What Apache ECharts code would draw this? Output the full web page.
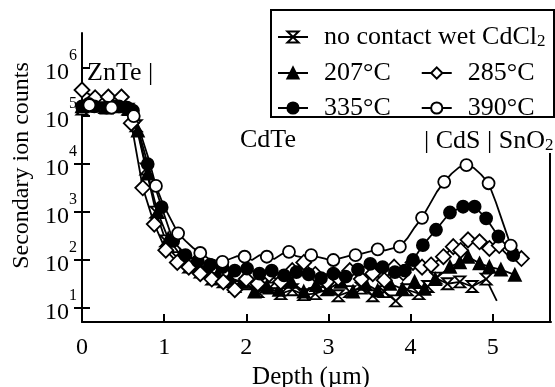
<!DOCTYPE html>
<html>
<head>
<meta charset="utf-8">
<script src="https://cdn.jsdelivr.net/npm/echarts@6/dist/echarts.min.js"></script>
<style>
  html, body { margin: 0; padding: 0; background: #fff; }
  #sims { width: 555px; height: 387px; }
</style>
</head>
<body>
<div id="sims"></div>
<script>
// SIMS depth profiles, Cl signal vs depth for the anneal temperatures
const seriesNames = ["no contact wet CdCl2", "207°C", "285°C", "335°C", "390°C"];

const noContactDepth = [0, 0.14, 0.28, 0.42, 0.56, 0.66, 0.78, 0.9, 1.02, 1.16, 1.3, 1.44, 1.58, 1.72, 1.86, 2.0, 2.14, 2.28, 2.42, 2.56, 2.7, 2.84, 2.98, 3.12, 3.26, 3.4, 3.54, 3.68, 3.82, 3.96, 4.1, 4.21, 4.31, 4.45, 4.6, 4.75, 4.92, 5.05];
const noContactCounts = [1.4e5, 1.6e5, 1.5e5, 1.6e5, 1.4e5, 6.3e4, 7900, 1000, 250, 112, 71, 56, 40, 35, 28, 32, 22, 26, 20, 24, 19, 20, 24, 18, 22, 26, 18, 22, 14, 24, 20, 28, 42, 32, 35, 28, 40, 14];

const t207Depth = [0, 0.15, 0.3, 0.45, 0.57, 0.68, 0.8, 0.92, 1.05, 1.2, 1.35, 1.5, 1.65, 1.8, 1.95, 2.1, 2.25, 2.4, 2.55, 2.7, 2.85, 3.0, 3.15, 3.3, 3.45, 3.6, 3.75, 3.9, 4.05, 4.17, 4.3, 4.48, 4.6, 4.7, 4.84, 4.96, 5.1, 5.27];
const t207Counts = [1.6e5, 1.7e5, 1.5e5, 1.6e5, 1.4e5, 5.0e4, 6300, 1000, 280, 126, 79, 63, 50, 42, 35, 22, 28, 24, 35, 22, 30, 25, 35, 22, 32, 23, 32, 25, 35, 25, 40, 72, 89, 117, 85, 72, 63, 49];

const t285Depth = [0, 0.16, 0.32, 0.48, 0.6, 0.74, 0.88, 1.02, 1.16, 1.3, 1.44, 1.58, 1.72, 1.86, 2.0, 2.14, 2.28, 2.42, 2.56, 2.7, 2.84, 2.98, 3.12, 3.26, 3.4, 3.54, 3.68, 3.8, 3.91, 4.03, 4.14, 4.25, 4.4, 4.52, 4.61, 4.7, 4.84, 4.96, 5.08, 5.21, 5.35];
const t285Counts = [3.5e5, 2.4e5, 2.5e5, 2.5e5, 7.1e4, 3200, 560, 160, 89, 71, 52, 40, 35, 24, 40, 32, 50, 35, 60, 89, 50, 35, 42, 60, 40, 52, 38, 71, 54, 89, 71, 79, 117, 190, 158, 263, 240, 174, 200, 162, 107];

const t335Depth = [0, 0.08, 0.15, 0.3, 0.45, 0.55, 0.62, 0.8, 0.97, 1.11, 1.26, 1.41, 1.56, 1.71, 1.86, 2.01, 2.16, 2.31, 2.46, 2.61, 2.76, 2.91, 3.06, 3.21, 3.36, 3.51, 3.66, 3.81, 3.93, 4.03, 4.15, 4.31, 4.48, 4.64, 4.78, 4.92, 5.07, 5.25];
const t335Counts = [1.6e5, 1.8e5, 1.6e5, 1.5e5, 1.6e5, 1.5e5, 1.3e5, 1.0e4, 1260, 250, 126, 95, 79, 71, 60, 66, 52, 60, 48, 56, 50, 42, 52, 45, 63, 83, 71, 56, 60, 100, 204, 427, 977, 1290, 1290, 741, 309, 126];

const t390Depth = [0, 0.09, 0.18, 0.27, 0.36, 0.45, 0.54, 0.63, 0.72, 0.81, 0.9, 0.99, 1.08, 1.17, 1.26, 1.35, 1.44, 1.53, 1.62, 1.71, 1.8, 1.89, 1.98, 2.07, 2.16, 2.25, 2.34, 2.43, 2.52, 2.61, 2.7, 2.79, 2.88, 2.97, 3.06, 3.15, 3.24, 3.33, 3.42, 3.51, 3.6, 3.69, 3.78, 3.87, 3.96, 4.05, 4.14, 4.23, 4.32, 4.41, 4.5, 4.59, 4.68, 4.77, 4.86, 4.95, 5.04, 5.13, 5.22];
const t390Counts = [1.8e5, 1.7e5, 1.6e5, 1.6e5, 1.5e5, 1.6e5, 1.4e5, 1.0e5, 4.0e4, 1.3e4, 3500, 1400, 710, 360, 250, 180, 140, 110, 100, 91, 105, 120, 117, 100, 126, 117, 105, 132, 148, 120, 112, 126, 115, 105, 100, 110, 120, 126, 138, 151, 166, 158, 174, 190, 282, 479, 759, 1410, 2630, 4270, 6310, 8510, 9550, 8320, 6030, 3980, 1580, 560, 200];

const xTicks = [0, 1, 2, 3, 4, 5];
const yTicks = [10, 100, 1e3, 1e4, 1e5, 1e6];
const rightTicks = [10, 100, 1e3, 1e4];

const FONT = '"Liberation Serif", "Times New Roman", serif';
const X_MAX = 5.71;
const Y_MIN = 5.1;
const Y_MAX = 5.4e6;
const RIGHT_TOP = 1.7e4;   // where the right frame line starts

const hourglass = "path://M0,0L10,0L0,10L10,10Z";

// build the point list; markEvery/markStart pick which points get a marker
function points(depth, counts, markEvery, markStart, lastBare) {
  return depth.map(function (d, i) {
    let item = { value: [d, counts[i]] };
    let marked = (i - markStart) % markEvery === 0 && i >= markStart;
    if (lastBare && i === depth.length - 1) marked = false;
    if (!marked) item.symbol = "none";
    return item;
  });
}

function lineSeries(name, data, symbol, size, fill) {
  return {
    name: name,
    type: "line",
    data: data,
    symbol: symbol,
    symbolSize: size,
    showSymbol: true,
    lineStyle: { color: "#000", width: 1.8 },
    itemStyle: { color: fill, borderColor: "#000", borderWidth: 1.8 },
    emphasis: { disabled: true },
    z: 2
  };
}

let myChart = echarts.init(document.getElementById("sims"), null, { renderer: "canvas" });

const legendCommon = {
  orient: "horizontal",
  padding: 0,
  itemWidth: 30,
  itemHeight: 14,
  selectedMode: false,
  textStyle: { fontFamily: FONT, fontSize: 26, color: "#000", padding: [0, 0, 0, 11],
    rich: { sub: { fontFamily: FONT, fontSize: 17, color: "#000", verticalAlign: "bottom", lineHeight: 18 } } },
  formatter: function (name) {
    return name === seriesNames[0] ? "no contact wet CdCl{sub|2}" : name;
  },
  z: 5
};

let option = {
  animation: false,
  backgroundColor: "#fff",
  grid: { left: 82, right: 4, top: 33, bottom: 65, containLabel: false, outerBoundsMode: "none" },
  xAxis: {
    type: "value",
    min: 0,
    max: X_MAX,
    name: "Depth (µm)",
    nameLocation: "middle",
    nameGap: 41,
    nameTextStyle: { fontFamily: FONT, fontSize: 25, color: "#000", padding: [0, 11, 0, 0] },
    axisLine: { show: true, onZero: false, lineStyle: { color: "#000", width: 2 } },
    axisTick: { show: true, inside: true, length: 8, customValues: xTicks, lineStyle: { color: "#000", width: 2 } },
    axisLabel: { customValues: xTicks, margin: 14, fontFamily: FONT, fontSize: 24, color: "#000" },
    splitLine: { show: false }
  },
  yAxis: [
    {
      type: "log",
      logBase: 10,
      min: Y_MIN,
      max: Y_MAX,
      name: "Secondary ion counts",
      nameLocation: "middle",
      nameGap: 48,
      nameTextStyle: { fontFamily: FONT, fontSize: 24, color: "#000", padding: [0, 0, 0, 24] },
      axisLine: { show: true, onZero: false, lineStyle: { color: "#000", width: 2 } },
      axisTick: { show: true, inside: true, length: 8, customValues: yTicks, lineStyle: { color: "#000", width: 2 } },
      axisLabel: {
        customValues: yTicks,
        margin: 5,
        padding: [10, 0, 0, 0],
        formatter: function (v) {
          return "{b|10}{s|" + Math.round(Math.log10(v)) + "}";
        },
        rich: {
          b: { fontFamily: FONT, fontSize: 24, color: "#000", lineHeight: 50, verticalAlign: "middle" },
          s: { fontFamily: FONT, fontSize: 16, color: "#000", lineHeight: 20, verticalAlign: "top" }
        }
      },
      splitLine: { show: false }
    },
    {
      type: "log",
      logBase: 10,
      min: Y_MIN,
      max: Y_MAX,
      position: "right",
      axisLine: { show: false },
      axisTick: { show: true, inside: true, length: 8, customValues: rightTicks, lineStyle: { color: "#000", width: 2 } },
      axisLabel: { show: false },
      splitLine: { show: false }
    }
  ],
  legend: [
    Object.assign({}, legendCommon, { data: [seriesNames[0]], left: 277, top: 24 }),
    Object.assign({}, legendCommon, { data: [seriesNames[1], seriesNames[2]], left: 277, top: 60, itemGap: 30 }),
    Object.assign({}, legendCommon, { data: [seriesNames[3], seriesNames[4]], left: 277, top: 95, itemGap: 30 })
  ],
  series: [
    lineSeries(seriesNames[0], points(noContactDepth, noContactCounts, 1, 0, true), hourglass, 11, "#fff"),
    lineSeries(seriesNames[1], points(t207Depth, t207Counts, 1, 0, false), "triangle", 12, "#000"),
    lineSeries(seriesNames[2], points(t285Depth, t285Counts, 1, 0, false), "diamond", 15, "#fff"),
    lineSeries(seriesNames[3], points(t335Depth, t335Counts, 1, 0, false), "circle", 12, "#000"),
    lineSeries(seriesNames[4], points(t390Depth, t390Counts, 3, 1, false), "circle", 12, "#fff")
  ]
};

myChart.setOption(option);

// right frame line only runs from the lower part of the plot
let rTop = myChart.convertToPixel({ gridIndex: 0 }, [X_MAX, RIGHT_TOP]);
let rBot = myChart.convertToPixel({ gridIndex: 0 }, [X_MAX, Y_MIN]);

myChart.setOption({
  graphic: [
    { id: "legendBox", type: "rect", z: 4, shape: { x: 271, y: 10, width: 283, height: 107 },
      style: { fill: "#fff", stroke: "#000", lineWidth: 2 } },
    { id: "rightAxis", type: "line", z: 3, shape: { x1: rBot[0] - 1, y1: rTop[1], x2: rBot[0] - 1, y2: rBot[1] + 1 },
      style: { stroke: "#000", lineWidth: 2 } },
    { id: "znte", type: "text", z: 3, x: 87, y: 73,
      style: { text: "ZnTe |", font: "26px " + FONT, fill: "#000", verticalAlign: "middle" } },
    { id: "cdte", type: "text", z: 3, x: 240, y: 140,
      style: { text: "CdTe", font: "26px " + FONT, fill: "#000", verticalAlign: "middle" } },
    { id: "cds", type: "text", z: 3, x: 424, y: 141,
      style: { text: "| CdS | SnO{sub|2}", font: "26px " + FONT, fill: "#000", verticalAlign: "middle",
        rich: { sub: { font: "17px " + FONT, fill: "#000", verticalAlign: "bottom", lineHeight: 18 } } } }
  ]
});

window.addEventListener("resize", () => {
  myChart.resize();
});
</script>
</body>
</html>
